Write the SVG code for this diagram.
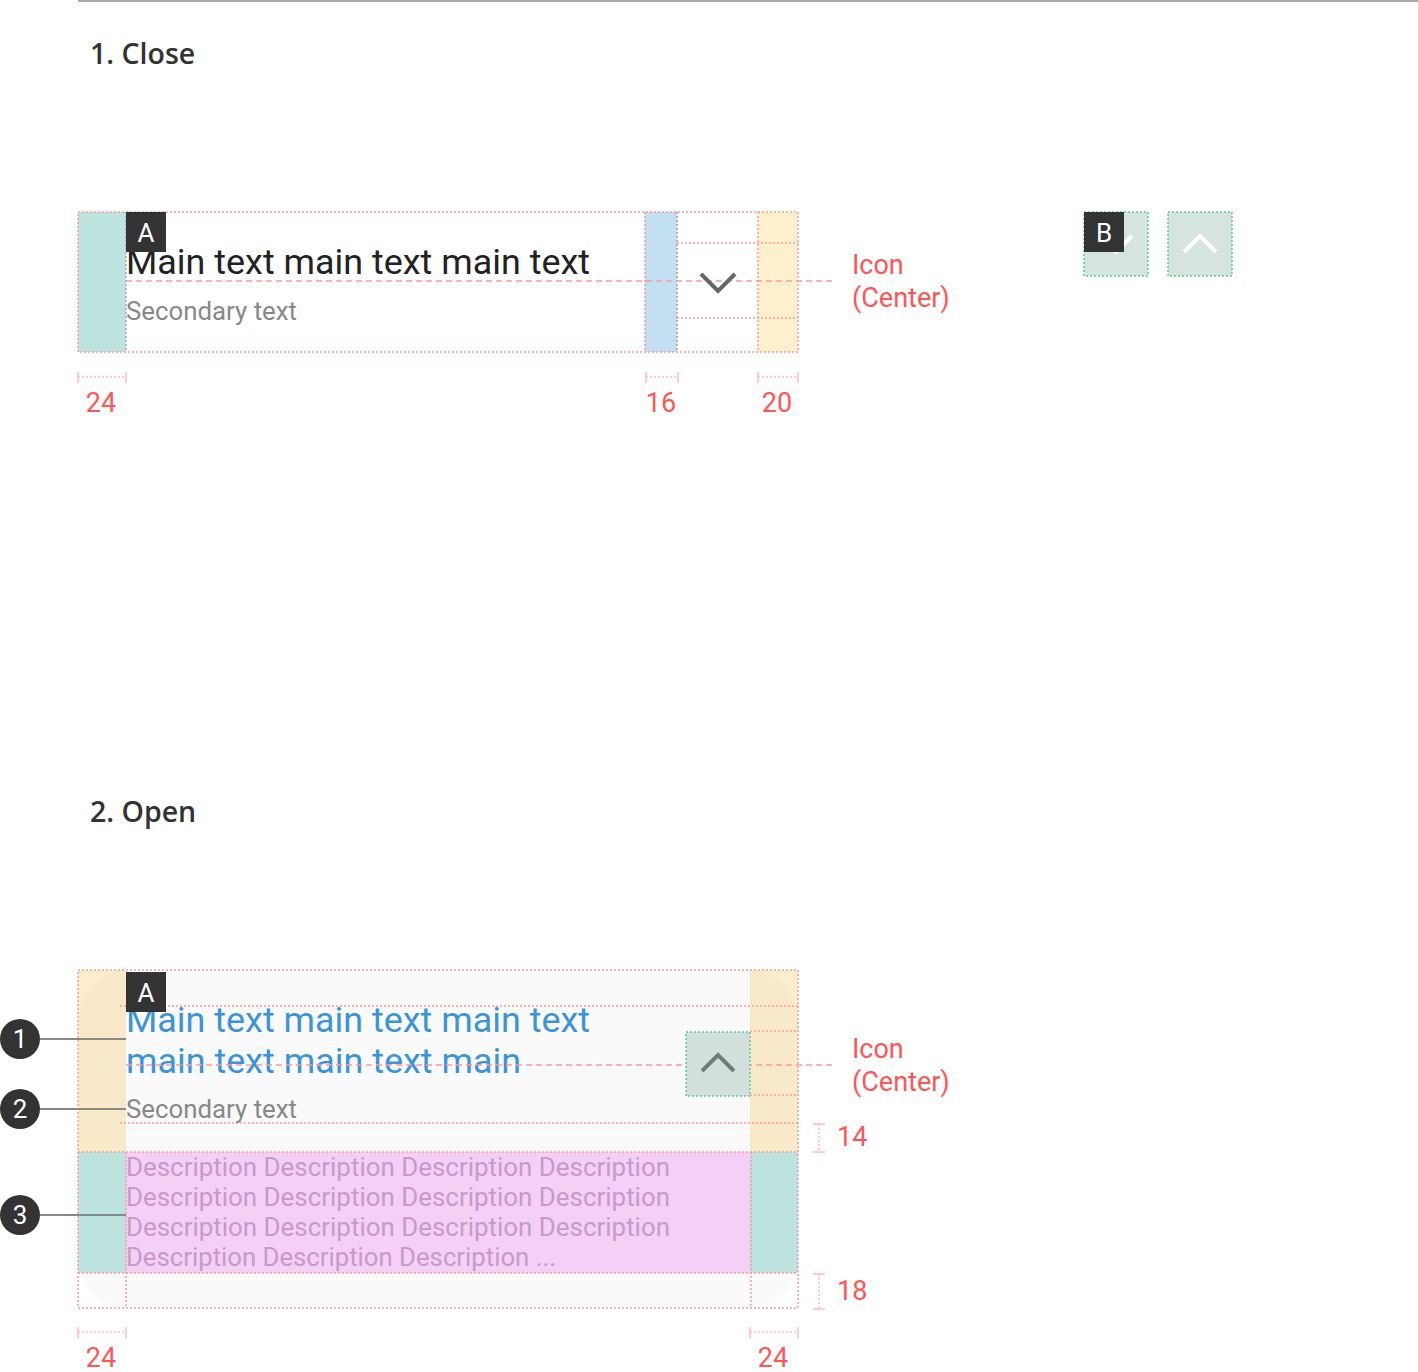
<svg xmlns="http://www.w3.org/2000/svg" width="1418" height="1372" viewBox="0 0 1418 1372">
<style>
.dot{fill:none;stroke:#f99;stroke-width:1.5;stroke-dasharray:2 2}
.dash{fill:none;stroke:#f99;stroke-width:1.5;stroke-dasharray:6 4}
.gdot{stroke:#5c9;stroke-width:1.5;stroke-dasharray:2 2}
.dim{fill:none;stroke:#fbb;stroke-width:1.5}
.dimd{fill:none;stroke:#fbb;stroke-width:1.5;stroke-dasharray:2 2}
.red{font-family:Roboto,"Liberation Sans",sans-serif;font-size:27px;fill:#f55}
.title{font-family:"Open Sans","Noto Sans",sans-serif;font-size:28.5px;font-weight:600;fill:#333}
.main{font-family:Roboto,"Liberation Sans",sans-serif;font-size:35px}
.sec{font-family:Roboto,"Liberation Sans",sans-serif;font-size:25px;fill:#888}
.desc{font-family:Roboto,"Liberation Sans",sans-serif;font-size:25px;fill:#c79ac8}
.badge{fill:#333}
.btxt{font-family:Roboto,"Liberation Sans",sans-serif;font-size:26px;fill:#fff;text-anchor:middle}
.chev{fill:none;stroke-width:4;stroke-linecap:butt}
.ann{stroke:#888;stroke-width:2}
</style>
<rect width="1418" height="1372" fill="#fff"/>
<line x1="78" y1="1" x2="1418" y2="1" stroke="#aaa" stroke-width="2"/>

<g id="title-close"><text class="title" x="90" y="64">1. Close</text></g>

<g id="close-item">
  <rect x="78" y="212" width="48" height="140" fill="#bde3df"/>
  <rect x="645" y="212" width="32" height="140" fill="#c3dff2"/>
  <rect x="758" y="212" width="40" height="140" fill="#fdf0cc"/>
  <rect class="dot" x="78" y="212" width="720" height="140"/>
  <line class="dot" x1="126" y1="212" x2="126" y2="352" style="stroke:#aaa"/>
  <line class="dot" x1="645" y1="212" x2="645" y2="352"/>
  <line class="dot" x1="677" y1="212" x2="677" y2="352" style="stroke:#b9a"/>
  <line class="dot" x1="758" y1="212" x2="758" y2="352"/>
  <line class="dot" x1="677" y1="243" x2="798" y2="243"/>
  <line class="dot" x1="677" y1="318" x2="798" y2="318"/>
  <text class="main" x="126" y="274" fill="#222" textLength="464" lengthAdjust="spacingAndGlyphs">Main text main text main text</text>
  <line class="dash" x1="126" y1="281" x2="836" y2="281"/>
  <text class="sec" x="126" y="320" textLength="171" lengthAdjust="spacingAndGlyphs">Secondary text</text>
  <polyline class="chev" points="701,274 718,291 735,274" stroke="#666"/>
  <rect class="badge" x="126" y="212" width="40" height="40"/>
  <text class="btxt" x="146" y="242">A</text>
  <text class="red" x="852" y="274">Icon</text>
  <text class="red" x="852" y="307">(Center)</text>
</g>

<g id="close-dims">
  <line class="dim" x1="78" y1="372" x2="78" y2="383"/>
  <line class="dim" x1="126" y1="372" x2="126" y2="383"/>
  <line class="dimd" x1="78" y1="377" x2="126" y2="377"/>
  <text class="red" x="101" y="412" text-anchor="middle">24</text>
  <line class="dim" x1="646" y1="372" x2="646" y2="383"/>
  <line class="dim" x1="678" y1="372" x2="678" y2="383"/>
  <line class="dimd" x1="646" y1="377" x2="678" y2="377"/>
  <text class="red" x="661" y="412" text-anchor="middle">16</text>
  <line class="dim" x1="758" y1="372" x2="758" y2="383"/>
  <line class="dim" x1="798" y1="372" x2="798" y2="383"/>
  <line class="dimd" x1="758" y1="377" x2="798" y2="377"/>
  <text class="red" x="777" y="412" text-anchor="middle">20</text>
</g>

<g id="icons-b">
  <rect class="gdot" x="1084" y="212" width="64" height="64" fill="#d5e4dc"/>
  <polyline class="chev" points="1100,236 1116,252 1132,236" stroke="#fff"/>
  <rect class="gdot" x="1168" y="212" width="64" height="64" fill="#d5e4dc"/>
  <polyline class="chev" points="1184,252 1200,236 1216,252" stroke="#fff"/>
  <rect class="badge" x="1084" y="212" width="40" height="40"/>
  <text class="btxt" x="1104" y="242">B</text>
</g>

<g id="title-open"><text class="title" x="90" y="822">2. Open</text></g>

<g id="open-item">
  <rect x="78" y="970" width="720" height="338" rx="50" fill="#fafafa"/>
  <rect x="78" y="970" width="48" height="182" fill="#f5c85a" fill-opacity="0.3"/>
  <rect x="750" y="970" width="48" height="182" fill="#f5c85a" fill-opacity="0.3"/>
  <rect x="78" y="1152" width="48" height="121" fill="#bde3df"/>
  <rect x="750" y="1152" width="48" height="121" fill="#bde3df"/>
  <rect x="126" y="1152" width="624" height="121" fill="#f4d0f6"/>
  <rect class="dot" x="78" y="970" width="720" height="338"/>
  <line class="dot" x1="120" y1="1006" x2="798" y2="1006"/>
  <line class="dot" x1="120" y1="1123" x2="798" y2="1123"/>
  <line class="dot" x1="750" y1="1031" x2="798" y2="1031"/>
  <line class="dot" x1="750" y1="1095" x2="798" y2="1095"/>
  <line class="dot" x1="78" y1="1152" x2="798" y2="1152"/>
  <line class="dot" x1="78" y1="1273" x2="798" y2="1273"/>
  <line class="dot" x1="126" y1="1152" x2="126" y2="1308"/>
  <line class="dot" x1="751" y1="1152" x2="751" y2="1308"/>
  <text class="main" x="126" y="1032" fill="#3a94dc" textLength="464" lengthAdjust="spacingAndGlyphs">Main text main text main text</text>
  <text class="main" x="126" y="1073" fill="#3a94dc" textLength="395" lengthAdjust="spacingAndGlyphs">main text main text main</text>
  <line class="dash" x1="126" y1="1065" x2="836" y2="1065"/>
  <text class="sec" x="126" y="1118" textLength="171" lengthAdjust="spacingAndGlyphs">Secondary text</text>
  <rect class="gdot" x="686" y="1032" width="64" height="64" fill="#d3e0da"/>
  <polyline class="chev" points="702,1071 718,1055 734,1071" stroke="#6e7e76"/>
  <text class="desc" x="126" y="1176" textLength="544" lengthAdjust="spacingAndGlyphs">Description Description Description Description</text>
  <text class="desc" x="126" y="1206" textLength="544" lengthAdjust="spacingAndGlyphs">Description Description Description Description</text>
  <text class="desc" x="126" y="1236" textLength="544" lengthAdjust="spacingAndGlyphs">Description Description Description Description</text>
  <text class="desc" x="126" y="1266" textLength="430" lengthAdjust="spacingAndGlyphs">Description Description Description ...</text>
  <rect class="badge" x="126" y="972" width="40" height="40"/>
  <text class="btxt" x="146" y="1002">A</text>
  <text class="red" x="852" y="1058">Icon</text>
  <text class="red" x="852" y="1091">(Center)</text>
</g>

<g id="open-dims">
  <line class="dim" x1="813" y1="1124" x2="825" y2="1124"/>
  <line class="dim" x1="813" y1="1152" x2="825" y2="1152"/>
  <line class="dimd" x1="819" y1="1124" x2="819" y2="1152"/>
  <text class="red" x="837" y="1146">14</text>
  <line class="dim" x1="813" y1="1274" x2="825" y2="1274"/>
  <line class="dim" x1="813" y1="1309" x2="825" y2="1309"/>
  <line class="dimd" x1="819" y1="1274" x2="819" y2="1309"/>
  <text class="red" x="837" y="1300">18</text>
  <line class="dim" x1="78" y1="1327" x2="78" y2="1338"/>
  <line class="dim" x1="126" y1="1327" x2="126" y2="1338"/>
  <line class="dimd" x1="78" y1="1332" x2="126" y2="1332"/>
  <text class="red" x="101" y="1367" text-anchor="middle">24</text>
  <line class="dim" x1="750" y1="1327" x2="750" y2="1338"/>
  <line class="dim" x1="798" y1="1327" x2="798" y2="1338"/>
  <line class="dimd" x1="750" y1="1332" x2="798" y2="1332"/>
  <text class="red" x="773" y="1367" text-anchor="middle">24</text>
</g>

<g id="connectors">
  <line class="ann" x1="40" y1="1039" x2="126" y2="1039"/>
  <line class="ann" x1="40" y1="1109" x2="126" y2="1109"/>
  <line class="ann" x1="40" y1="1215" x2="126" y2="1215"/>
</g>
<g id="callout-1"><circle cx="20" cy="1039" r="20" fill="#333"/><text class="btxt" x="20" y="1048">1</text></g>
<g id="callout-2"><circle cx="20" cy="1109" r="20" fill="#333"/><text class="btxt" x="20" y="1118">2</text></g>
<g id="callout-3"><circle cx="20" cy="1215" r="20" fill="#333"/><text class="btxt" x="20" y="1224">3</text></g>
</svg>
